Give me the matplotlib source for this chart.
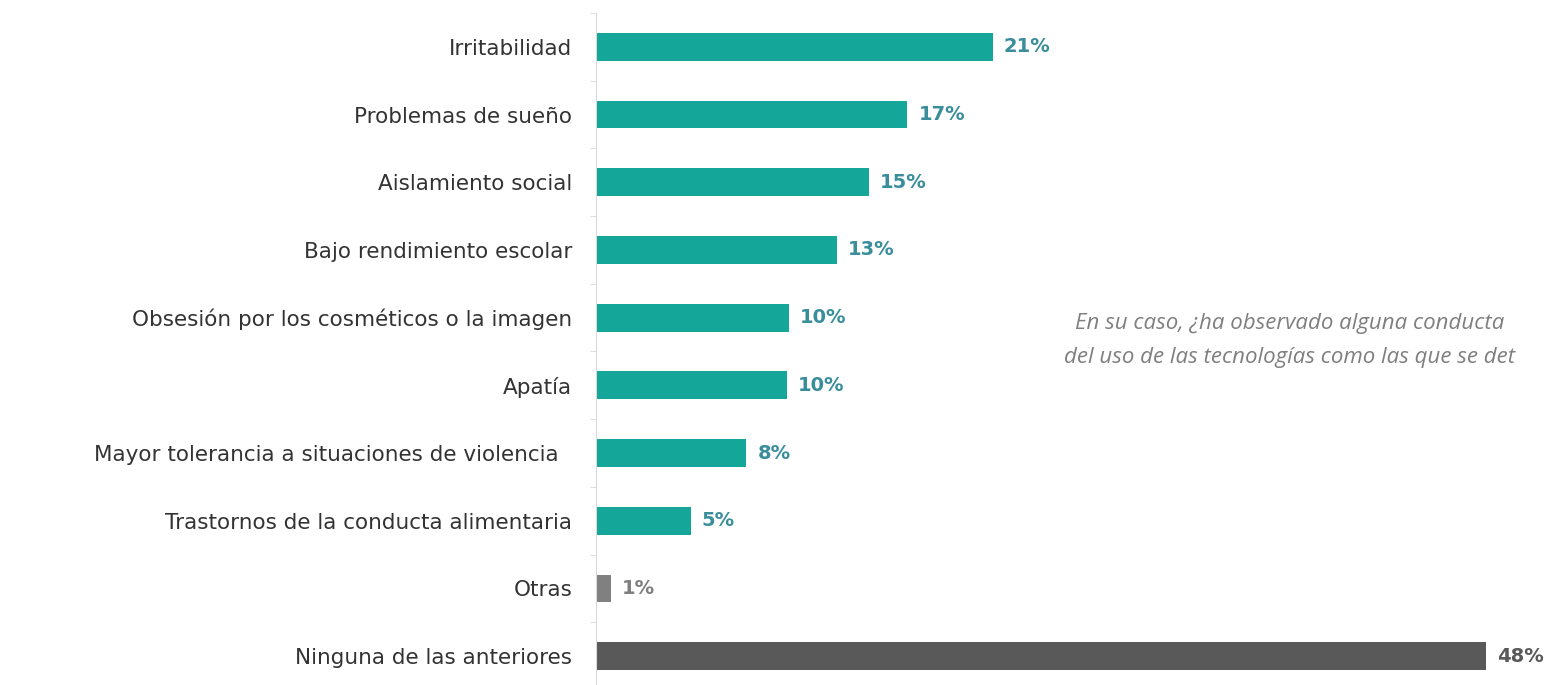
import matplotlib.pyplot as plt
import numpy as np

categorias = [
    'Irritabilidad',
    'Problemas de sueño',
    'Aislamiento social',
    'Bajo rendimiento escolar',
    'Obsesión por los cosméticos o la imagen',
    'Apatía',
    'Mayor tolerancia a situaciones de violencia  ',
    'Trastornos de la conducta alimentaria',
    'Otras',
    'Ninguna de las anteriores',
]
valores = [21.4, 16.8, 14.7, 13.0, 10.4, 10.3, 8.1, 5.1, 0.8, 48.0]
etiquetas = ['21%', '17%', '15%', '13%', '10%', '10%', '8%', '5%', '1%', '48%']

teal = '#14A698'
colores = [teal] * 8 + ['#808080', '#595959']
colores_txt = ['#3A8E9C'] * 8 + ['#808080', '#595959']

fig = plt.figure(figsize=(15.49, 6.85), dpi=100)
ax = fig.add_axes([596 / 1549, -5 / 685, 927 / 1549, 677 / 685])

y = np.arange(len(categorias))
ax.barh(y, valores, height=0.41, color=colores)

for yi, v, t, c in zip(y, valores, etiquetas, colores_txt):
    ax.text(v + 0.6, yi, t, va='center', ha='left', fontsize=14,
            fontweight='bold', color=c, clip_on=False)

ax.set_xlim(0, 50)
ax.set_ylim(len(categorias) - 0.5, -0.5)
ax.set_yticks(y)
ax.set_yticklabels(categorias, fontsize=15.5, color='#333333')
ax.set_yticks(np.arange(len(categorias) + 1) - 0.5, minor=True)
ax.tick_params(axis='y', which='major', length=0, pad=17)
ax.tick_params(axis='y', which='minor', length=4, color='#D9D9D9')
ax.set_xticks([])
for s in ['top', 'right', 'bottom']:
    ax.spines[s].set_visible(False)
ax.spines['left'].set_color('#D9D9D9')

# pregunta de la encuesta (recortada en el original)
fig.text(1075 / 1549, 1 - 323 / 685,
         'En su caso, ¿ha observado alguna conducta',
         fontsize=16, family='Open Sans', style='italic', color='#7F7F7F',
         va='center', ha='left')
fig.text(1064 / 1549, 1 - 357 / 685,
         'del uso de las tecnologías como las que se det',
         fontsize=16, family='Open Sans', style='italic', color='#7F7F7F',
         va='center', ha='left')

fig.savefig('out.png', dpi=100)
